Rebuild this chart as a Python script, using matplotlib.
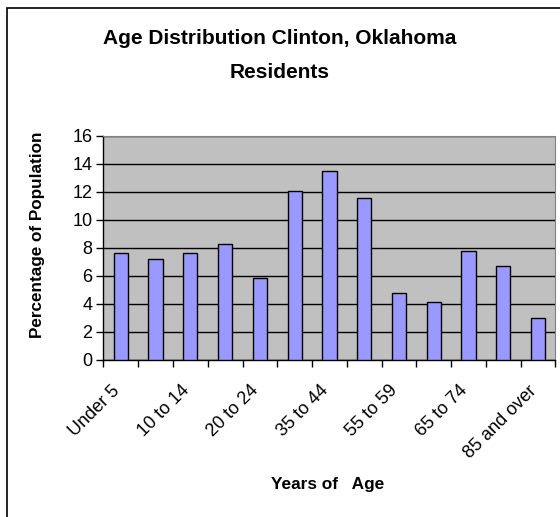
import matplotlib.pyplot as plt
import numpy as np
from matplotlib.patches import Rectangle
from matplotlib.transforms import ScaledTranslation

plt.rcParams['font.family'] = ['Liberation Sans', 'DejaVu Sans']

# Age groups and share of residents (%)
grupos = ['Under 5', '5 to 9', '10 to 14', '15 to 19', '20 to 24', '25 to 34',
          '35 to 44', '45 to 54', '55 to 59', '60 to 64', '65 to 74',
          '75 to 84', '85 and over']
porcentaje = [7.65, 7.22, 7.65, 8.29, 5.84, 12.09, 13.45, 11.55, 4.77, 4.13,
              7.75, 6.68, 2.97]
yticks = [0, 2, 4, 6, 8, 10, 12, 14, 16]

fig = plt.figure(figsize=(5.6, 5.17), dpi=100)
ax = fig.add_axes([0.1848, 0.3037, 0.8068, 0.4338])

x = np.arange(len(grupos))
ax.bar(x, porcentaje, width=0.41, color='#9999FF', edgecolor='black',
       linewidth=1.0, zorder=3)

ax.set_facecolor('#C0C0C0')
ax.set_xlim(-0.5, len(grupos) - 0.5)
ax.set_ylim(0, 16)
ax.set_yticks(yticks)
ax.yaxis.grid(True, color='black', linewidth=1.0, zorder=1)
ax.tick_params(axis='y', labelsize=13, length=5, width=1, direction='out', pad=3)

# ticks sit on category boundaries, labels on every other category
ax.set_xticks(np.arange(len(grupos) + 1) - 0.5)
ax.set_xticklabels([])
ax.set_xticks(x[::2], minor=True)
ax.set_xticklabels(grupos[::2], minor=True, rotation=45, ha='right',
                   rotation_mode='anchor', fontsize=13)
ax.tick_params(axis='x', which='major', length=5, width=1, direction='out')
ax.tick_params(axis='x', which='minor', length=0, pad=16)
for etiqueta in ax.get_xticklabels(minor=True):
    etiqueta.set_transform(etiqueta.get_transform() +
                           ScaledTranslation(-7 / 72, 0, fig.dpi_scale_trans))

for lado in ['top', 'right']:
    ax.spines[lado].set_color('#808080')
for lado in ['left', 'bottom']:
    ax.spines[lado].set_color('black')
    ax.spines[lado].set_linewidth(1.0)

fig.text(38 / 560, 1 - 235 / 517, 'Percentage of Population', fontsize=12.3,
         fontweight='bold', rotation=90, ha='center', va='center')
fig.text(328 / 560, 1 - 485 / 517, 'Years of   Age', fontsize=12.4,
         fontweight='bold', ha='center', va='center')
fig.text(0.5, 1 - 39 / 517, 'Age Distribution Clinton, Oklahoma',
         fontsize=15, fontweight='bold', ha='center', va='center')
fig.text(0.5, 1 - 72 / 517, 'Residents',
         fontsize=15, fontweight='bold', ha='center', va='center')

# chart frame
fig.patches.append(Rectangle((7 / 560, -0.1), 1.2, 1.1 - 8 / 517,
                             transform=fig.transFigure, fill=False,
                             edgecolor='black', linewidth=1.2))

fig.savefig('out.png', dpi=100)
